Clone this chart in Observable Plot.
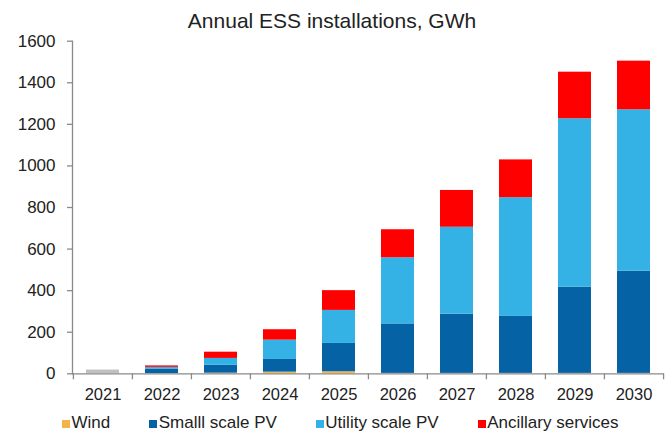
<!DOCTYPE html>
<html>
<head>
<meta charset="utf-8">
<script src="https://cdn.jsdelivr.net/npm/d3@7"></script>
<script src="https://cdn.jsdelivr.net/npm/@observablehq/plot@0.6"></script>
<style>
  html, body { margin: 0; padding: 0; background: #fff; }
  #wrap { position: relative; width: 670px; height: 432px; overflow: hidden; font-family: "Liberation Sans", Arial, sans-serif; color: #222; }
  #title { position: absolute; top: 10px; left: 0; width: 664px; text-align: center; font-size: 21px; line-height: 1; color: #222; }
  #legend { position: absolute; top: 413px; left: 62px; display: flex; gap: 39px; font-size: 17px; line-height: 20px; color: #222; white-space: nowrap; }
  #legend .sw { display: inline-block; width: 8px; height: 8px; margin-right: 1.5px; vertical-align: 0px; }
  svg { display: block; }
</style>
</head>
<body>
<div id="wrap">
  <div id="chart"></div>
  <div id="title">Annual ESS installations, GWh</div>
  <div id="legend"></div>
</div>
<script>
// ---- data ----
const years = ["2021","2022","2023","2024","2025","2026","2027","2028","2029","2030"];
const total2021 = [18, 0, 0, 0, 0, 0, 0, 0, 0, 0];
const wind      = [0, 1, 3, 8, 10, 2, 2, 2, 2, 2];
const smallPV   = [0, 22, 38, 61, 136, 238, 285, 274, 415, 492];
const utilityPV = [0, 8, 33, 93, 159, 318, 418, 571, 810, 776];
const ancillary = [0, 7, 30, 50, 95, 135, 177, 182, 224, 234];
const yTicks = [0, 200, 400, 600, 800, 1000, 1200, 1400, 1600];

const seriesNames = ["2021", "Wind", "Smalll scale PV", "Utility scale PV", "Ancillary services"];
const seriesValues = [total2021, wind, smallPV, utilityPV, ancillary];
const seriesColors = ["#c0c0c0", "#f2b34a", "#0563a5", "#35b2e5", "#ff0000"];
const legendNames = ["Wind", "Smalll scale PV", "Utility scale PV", "Ancillary services"];

const table = [];
seriesNames.forEach((s, si) => {
  years.forEach((y, i) => table.push({year: y, series: s, value: seriesValues[si][i]}));
});

// ---- layout ----
const W = 670, H = 404;
const mL = 72, mR = 6.3, mT = 40.7, mB = 30.7;
const step = (W - mL - mR) / years.length;
const axisGray = "#8a8a8a";

const chart = Plot.plot({
  width: W, height: H,
  marginLeft: mL, marginRight: mR, marginTop: mT, marginBottom: mB,
  style: {fontFamily: "'Liberation Sans', Arial, sans-serif", color: "#222", background: "transparent", overflow: "visible"},
  x: {type: "band", domain: years, paddingInner: 0.44, paddingOuter: 0.22, axis: null, label: null},
  y: {domain: [0, 1600], axis: null, label: null},
  color: {domain: seriesNames, range: seriesColors},
  marks: [
    Plot.barY(table, {x: "year", y: "value", fill: "series"}),
    Plot.ruleY([0], {stroke: axisGray, strokeWidth: 1.3}),
    Plot.frame({anchor: "left", stroke: axisGray, strokeWidth: 1.3}),
    Plot.ruleX(years, {x: d => d, dx: -step / 2, insetTop: H - mT - mB, insetBottom: -6, stroke: axisGray, strokeWidth: 1.3}),
    Plot.ruleX(years.slice(-1), {x: d => d, dx: step / 2, insetTop: H - mT - mB, insetBottom: -6, stroke: axisGray, strokeWidth: 1.3}),
    Plot.axisY({ticks: yTicks, tickSize: 5, tickFormat: () => "", label: null, stroke: axisGray, strokeWidth: 1.3}),
    Plot.axisY({ticks: yTicks, tickSize: 0, tickPadding: 17, tickFormat: d3.format("d"), label: null, fontSize: 17, fill: "#222"}),
    Plot.axisX({tickSize: 0, tickPadding: 14.5, label: null, fontSize: 16.5, fill: "#222"})
  ]
});
document.getElementById("chart").appendChild(chart);

const legend = document.getElementById("legend");
legendNames.forEach(name => {
  const item = document.createElement("span");
  const sw = document.createElement("span");
  sw.className = "sw";
  sw.style.background = seriesColors[seriesNames.indexOf(name)];
  item.appendChild(sw);
  item.appendChild(document.createTextNode(name));
  legend.appendChild(item);
});
</script>
</body>
</html>
